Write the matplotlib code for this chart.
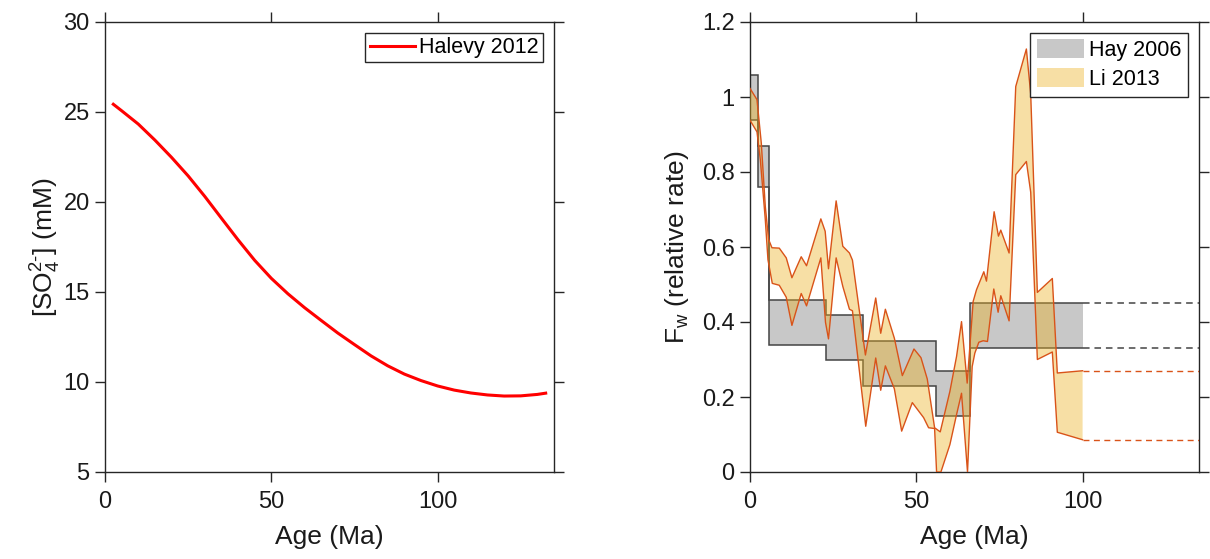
import numpy as np
import matplotlib
matplotlib.use("Agg")
import matplotlib.pyplot as plt
from matplotlib.patches import Patch
from matplotlib.ticker import FuncFormatter

plt.rcParams['font.family'] = ['Liberation Sans', 'DejaVu Sans']
plt.rcParams['mathtext.fontset'] = 'custom'
plt.rcParams['mathtext.rm'] = 'Liberation Sans'
plt.rcParams['mathtext.it'] = 'Liberation Sans:italic'
plt.rcParams['mathtext.bf'] = 'Liberation Sans:bold'
plt.rcParams['mathtext.sf'] = 'Liberation Sans'

# ---------------- data ----------------
# Left panel: Halevy 2012 seawater sulfate
halevy_age = [2.5, 5, 10, 15, 20, 25, 30, 35, 40, 45, 50, 55, 60, 65, 70, 75,
              80, 85, 90, 95, 100, 105, 110, 115, 120, 125, 130, 132.5]
halevy_so4 = [25.43, 25.07, 24.33, 23.44, 22.48, 21.45, 20.31, 19.10, 17.90, 16.76,
              15.76, 14.90, 14.13, 13.42, 12.72, 12.08, 11.45, 10.90, 10.44, 10.08,
              9.78, 9.55, 9.39, 9.28, 9.22, 9.23, 9.31, 9.38]

# Right panel: Hay 2006 step band
hay_edges = [0, 2.3, 5.8, 23, 34, 56, 66, 100]
hay_upper = [1.06, 0.87, 0.46, 0.42, 0.35, 0.27, 0.45]
hay_lower = [0.94, 0.76, 0.34, 0.30, 0.23, 0.15, 0.33]

# Right panel: Li 2013 band (upper and lower bounds)
li_age_hi = [0, 2.1, 3.4, 4.6, 5.6, 6.6, 8.8, 10.9, 12.6, 15.4,
             17.0, 21.3, 22.6, 23.6, 25.9, 27.9, 29.9, 30.8, 34.7, 37.8,
             39.3, 40.7, 43.4, 45.8, 49.3, 51.4, 53.3, 55.5, 57.2, 60.1,
             62.1, 63.6, 65.3, 67.1, 68.1, 70.3, 71.1, 73.4, 74.7, 75.4,
             77.9, 79.9, 83.1, 84.4, 86.4, 90.9, 92.4, 100]
li_hi = [1.023, 0.993, 0.877, 0.708, 0.620, 0.598, 0.597, 0.571, 0.518, 0.574,
         0.550, 0.675, 0.642, 0.542, 0.723, 0.602, 0.584, 0.565, 0.312, 0.464,
         0.370, 0.434, 0.357, 0.257, 0.328, 0.305, 0.248, 0.118, 0.107, 0.215,
         0.308, 0.401, 0.237, 0.455, 0.486, 0.534, 0.509, 0.694, 0.629, 0.645,
         0.584, 1.028, 1.128, 1.008, 0.479, 0.516, 0.264, 0.270]

li_age_lo = [0, 2.1, 3.1, 4.6, 5.4, 6.7, 8.8, 10.9, 12.6, 15.4,
             17.0, 21.3, 22.7, 23.6, 25.9, 27.9, 29.9, 30.8, 34.8, 37.8,
             39.3, 40.7, 43.4, 45.6, 48.8, 52.2, 53.7, 55.5, 56.1, 57.4,
             60.1, 62.1, 63.6, 65.4, 66.8, 67.6, 68.8, 70.1, 71.4, 73.3,
             74.6, 75.4, 77.9, 79.9, 83.1, 84.4, 86.4, 90.9, 92.4, 100]
li_lo = [0.938, 0.907, 0.833, 0.673, 0.566, 0.503, 0.498, 0.466, 0.391, 0.476,
         0.443, 0.571, 0.399, 0.355, 0.571, 0.495, 0.434, 0.430, 0.122, 0.304,
         0.218, 0.283, 0.222, 0.109, 0.185, 0.145, 0.118, 0.116, 0.0, 0.0,
         0.073, 0.153, 0.210, 0.0, 0.281, 0.317, 0.346, 0.350, 0.348, 0.488,
         0.426, 0.470, 0.403, 0.793, 0.828, 0.746, 0.300, 0.320, 0.106, 0.086]

xticks = [0, 50, 100]
left_yticks = [5, 10, 15, 20, 25, 30]
right_yticks = [0, 0.2, 0.4, 0.6, 0.8, 1.0, 1.2]

# ---------------- style ----------------
AX_COL = '#262626'
HAY_FILL = '#c8c8c8'
HAY_EDGE = '#444444'
LI_FILL = (0.929, 0.694, 0.125)
LI_EDGE = '#d95319'
XMAX = 135

fig = plt.figure(figsize=(12.1, 5.59), dpi=100)
W, H = 1210, 559
ax1 = fig.add_axes([105 / W, 87 / H, 449 / W, 450 / H])
ax2 = fig.add_axes([750 / W, 87 / H, 449 / W, 450 / H])


def style(ax):
    for s in ax.spines.values():
        s.set_color(AX_COL)
        s.set_linewidth(1.0)
    ax.tick_params(direction='out', length=7, width=1.0, colors=AX_COL,
                   labelsize=17, top=True, right=True, labeltop=False,
                   labelright=False)
    ax.tick_params(axis='y', pad=4)
    ax.tick_params(axis='x', pad=7)
    for t in ax.get_xticklabels() + ax.get_yticklabels():
        t.set_color('#1a1a1a')


# ---- left panel ----
ax1.plot(halevy_age, halevy_so4, color='red', lw=2.2, label='Halevy 2012')
ax1.set_xlim(0, XMAX)
ax1.set_ylim(5, 30)
ax1.set_xticks(xticks)
ax1.set_yticks(left_yticks)
style(ax1)
ax1.set_xlabel('Age (Ma)', fontsize=19, color='#1a1a1a', labelpad=8)
ax1.set_ylabel(r'[SO$_4^{2\text{-}}$] (mM)', fontsize=19, color='#1a1a1a',
               labelpad=0)
leg1 = ax1.legend(loc='upper right', fontsize=15.5, frameon=True, fancybox=False,
                  framealpha=1, edgecolor=AX_COL, borderpad=0.2,
                  handlelength=2.1, handletextpad=0.2, borderaxespad=0.5)
leg1.get_frame().set_linewidth(1.0)

# ---- right panel ----
hx = np.array(hay_edges, dtype=float)
hu = np.array(hay_upper + [hay_upper[-1]])
hl = np.array(hay_lower + [hay_lower[-1]])
ax2.fill_between(hx, hl, hu, step='post', color=HAY_FILL, lw=0, zorder=1)
ax2.stairs(hay_upper, hay_edges, baseline=None, color=HAY_EDGE, lw=1.1, zorder=2)
ax2.stairs(hay_lower, hay_edges, baseline=None, color=HAY_EDGE, lw=1.1, zorder=2)

poly_x = np.concatenate([li_age_hi, li_age_lo[::-1]])
poly_y = np.concatenate([li_hi, li_lo[::-1]])
ax2.fill(poly_x, poly_y, color=LI_FILL, alpha=0.4, lw=0, zorder=3)
ax2.plot(li_age_hi, li_hi, color=LI_EDGE, lw=1.0, zorder=4)
ax2.plot(li_age_lo, li_lo, color=LI_EDGE, lw=1.0, zorder=4)

ext = [hay_edges[-1], XMAX]
for v in (hay_upper[-1], hay_lower[-1]):
    ax2.plot(ext, [v, v], color=HAY_EDGE, lw=1.1, dashes=(4.3, 3.2), zorder=2)
for v in (li_hi[-1], li_lo[-1]):
    ax2.plot([li_age_hi[-1], XMAX], [v, v], color=LI_EDGE, lw=1.0,
             dashes=(4.3, 3.2), zorder=4)

ax2.set_xlim(0, XMAX)
ax2.set_ylim(0, 1.2)
ax2.set_xticks(xticks)
ax2.set_yticks(right_yticks)
ax2.yaxis.set_major_formatter(FuncFormatter(lambda v, p: '%g' % round(v, 2)))
style(ax2)
ax2.set_xlabel('Age (Ma)', fontsize=19, color='#1a1a1a', labelpad=8)
ax2.set_ylabel(r'F$_{\mathrm{w}}$ (relative rate)', fontsize=19, color='#1a1a1a',
               labelpad=8)
handles = [Patch(facecolor=HAY_FILL, edgecolor='none', label='Hay 2006'),
           Patch(facecolor=LI_FILL, alpha=0.4, edgecolor='none', label='Li 2013')]
leg2 = ax2.legend(handles=handles, loc='upper right', fontsize=15.5, frameon=True,
                  fancybox=False, framealpha=1, edgecolor=AX_COL, borderpad=0.3,
                  handlelength=2.2, handleheight=1.0, handletextpad=0.25,
                  labelspacing=0.32, borderaxespad=0.5)
leg2.get_frame().set_linewidth(1.0)

fig.savefig('out.png', dpi=100)
